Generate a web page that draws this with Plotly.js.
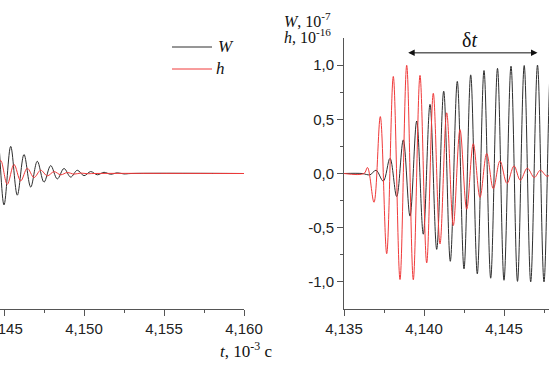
<!DOCTYPE html>
<html>
<head>
<meta charset="utf-8">
<script src="https://cdn.plot.ly/plotly-3.0.1.min.js"></script>
<style>
html,body{margin:0;padding:0;background:#fff;overflow:hidden;}
#chart{width:549px;height:366px;}
</style>
</head>
<body>
<div id="chart"></div>
<script>
// ---- Left panel (t, 10^-3 s) ----
const leftW_t = [4.144169,4.144581,4.145000,4.145419,4.145831,4.146250,4.146669,4.147081,4.147500,4.147919,4.148331,4.148750,4.149169,4.149581,4.150000,4.150419,4.150831,4.151250,4.151669,4.152081,4.152500,4.152938,4.160000];
const leftW   = [-0.40,0.37,-0.29,0.25,-0.20,0.175,-0.125,0.113,-0.08,0.073,-0.05,0.046,-0.033,0.03,-0.02,0.018,-0.012,0.011,-0.007,0.006,-0.004,0,0];
const leftH_t = [4.144375,4.144794,4.145206,4.145625,4.146044,4.146456,4.146875,4.147294,4.147706,4.148125,4.148544,4.148956,4.149375,4.149794,4.150206,4.150625,4.160000];
const leftH   = [-0.15,0.12,-0.10,0.083,-0.068,0.048,-0.037,0.03,-0.022,0.017,-0.012,0.009,-0.006,0.004,-0.002,0,0];

// ---- Right panel ----
const rightW_t = [4.135000,4.136125,4.136625,4.137000,4.137456,4.137875,4.138294,4.138706,4.139125,4.139544,4.139956,4.140375,4.140794,4.141231,4.141644,4.142081,4.142500,4.142919,4.143331,4.143750,4.144169,4.144594,4.145000,4.145438,4.145844,4.146263,4.146669,4.147094,4.147500,4.147919,4.148331];
const rightW   = [0,0,-0.012,0.03,-0.07,0.14,-0.213,0.31,-0.393,0.484,-0.56,0.638,-0.70,0.76,-0.81,0.85,-0.88,0.91,-0.926,0.95,-0.966,0.97,-0.985,0.99,-0.995,0.996,-1.0,1.0,-1.0,1.0,-1.0];
const rightH_t = [4.135000,4.136250,4.136469,4.136875,4.137269,4.137669,4.138081,4.138500,4.138919,4.139331,4.139750,4.140169,4.140581,4.141000,4.141419,4.141831,4.142250,4.142669,4.143081,4.143500,4.143919,4.144331,4.144750,4.145188,4.145625,4.146019,4.146456,4.146894,4.147269,4.147688,4.148106];
const rightH   = [0,0,0.055,-0.265,0.525,-0.74,0.895,-0.978,0.998,-0.98,0.905,-0.825,0.74,-0.65,0.56,-0.48,0.405,-0.33,0.275,-0.22,0.185,-0.14,0.116,-0.092,0.07,-0.062,0.049,-0.037,0.03,-0.025,0.02];

// ---- ticks ----
const leftXTicks = [4.145,4.150,4.155,4.160];
const leftXText  = ['4,145','4,150','4,155','4,160'];
const leftXMinor = [4.1475,4.1525,4.1575];
const rightXTicks = [4.135,4.140,4.145];
const rightXText  = ['4,135','4,140','4,145'];
const rightXMinor = [4.1375,4.1425,4.1475];
const yTicks = [-1,-0.5,0,0.5,1];
const yText  = ['-1,0','-0,5','0,0','0,5','1,0'];
const yMinor = [-0.75,-0.25,0.25,0.75];

// delta-t arrow ends (data)
const dtStart = 4.138919, dtEnd = 4.147094, dtLevel = 1.113;

const W = 549, H = 366;
const px = v => v / W;
const py = v => (H - v) / H;

const blk = '#2e2e2e', red = '#f03a3a', axc = '#555';
const tickFont = {family:'Liberation Sans', size:15, color:'#222'};
const serif = 'Liberation Serif';

const line = (x, y, ax, ay, color) => ({x, y, xaxis:ax, yaxis:ay, type:'scatter', mode:'lines',
  line:{color, width:1, shape:'spline', smoothing:1}, hoverinfo:'skip', showlegend:false});

const data = [
  line(leftW_t, leftW, 'x', 'y', blk),
  line(leftH_t, leftH, 'x', 'y', red),
  line(rightW_t, rightW, 'x2', 'y2', blk),
  line(rightH_t, rightH, 'x2', 'y2', red)
];

const yDom = [py(309), py(38)];
const axisBase = {showgrid:false, zeroline:false, showline:true, linecolor:axc, linewidth:1,
  ticks:'outside', ticklen:6, tickcolor:axc, tickwidth:1, tickfont:tickFont, tickmode:'array',
  ticklabeloverflow:'allow'};

const layout = {
  width:W, height:H, margin:{l:0,r:0,t:0,b:0},
  paper_bgcolor:'#fff', plot_bgcolor:'rgba(0,0,0,0)', showlegend:false,
  xaxis: Object.assign({}, axisBase, {domain:[0, px(244)], range:[4.14475, 4.160], anchor:'y',
    tickvals:leftXTicks, ticktext:leftXText,
    minor:{tickmode:'array', tickvals:leftXMinor, ticks:'outside', ticklen:3, tickcolor:axc}}),
  yaxis: {domain:yDom, range:[-1.25,1.25], visible:false, anchor:'x'},
  xaxis2: Object.assign({}, axisBase, {domain:[px(344), 1], range:[4.135, 4.1478125], anchor:'y2',
    tickvals:rightXTicks, ticktext:rightXText,
    minor:{tickmode:'array', tickvals:rightXMinor, ticks:'outside', ticklen:3, tickcolor:axc}}),
  yaxis2: Object.assign({}, axisBase, {domain:yDom, range:[-1.25,1.25], anchor:'x2',
    tickvals:yTicks, ticktext:yText,
    minor:{tickmode:'array', tickvals:yMinor, ticks:'outside', ticklen:3, tickcolor:axc}}),
  shapes: [
    {type:'line', xref:'paper', yref:'paper', x0:px(172), x1:px(212), y0:py(47), y1:py(47), line:{color:blk, width:1}},
    {type:'line', xref:'paper', yref:'paper', x0:px(172), x1:px(212), y0:py(69), y1:py(69), line:{color:red, width:1}}
  ],
  annotations: [
    {xref:'paper', yref:'paper', x:px(216), y:py(46), xanchor:'left', yanchor:'middle', showarrow:false,
      text:'<i>W</i>', font:{family:serif, size:17, color:'#111'}},
    {xref:'paper', yref:'paper', x:px(214), y:py(68), xanchor:'left', yanchor:'middle', showarrow:false,
      text:'<i>h</i>', font:{family:serif, size:17, color:'#111'}},
    {xref:'paper', yref:'paper', x:px(282), y:py(20), xanchor:'left', yanchor:'middle', showarrow:false,
      text:'<i>W</i>, 10<sup>-7</sup>', font:{family:serif, size:16, color:'#111'}},
    {xref:'paper', yref:'paper', x:px(282), y:py(36), xanchor:'left', yanchor:'middle', showarrow:false,
      text:'<i>h</i>, 10<sup>-16</sup>', font:{family:serif, size:16, color:'#111'}},
    {xref:'paper', yref:'paper', x:px(218), y:py(350), xanchor:'left', yanchor:'middle', showarrow:false,
      text:'<i>t</i>, 10<sup>-3</sup> c', font:{family:serif, size:17, color:'#111'}},
    {xref:'paper', yref:'paper', x:px(469), y:py(40), xanchor:'center', yanchor:'middle', showarrow:false,
      text:'δ<i>t</i>', font:{family:serif, size:20, color:'#111'}},
    {xref:'x2', yref:'y2', axref:'x2', ayref:'y2', x:dtEnd, y:dtLevel, ax:dtStart, ay:dtLevel,
      text:'', showarrow:true, arrowside:'end+start', arrowhead:2, arrowsize:1.3, arrowwidth:1,
      arrowcolor:'#111', standoff:0, startstandoff:0}
  ]
};

Plotly.newPlot('chart', data, layout, {displayModeBar:false, staticPlot:true});
</script>
</body>
</html>
